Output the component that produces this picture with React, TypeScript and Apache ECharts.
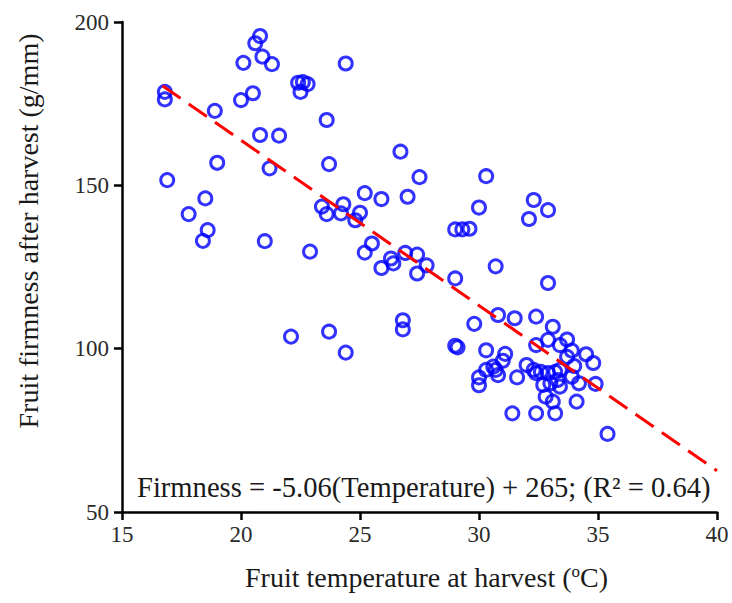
import React, { useEffect, useRef } from "react";
import * as echarts from "echarts";

// Fruit temperature at harvest (°C)
const temperature: number[] = [
  16.8, 16.8, 16.9, 17.8, 18.4, 18.6, 18.5, 18.9, 19.0, 20.0,
  20.5, 20.1, 20.6, 20.8, 20.9, 21.3, 20.8, 21.6, 21.2, 21.0,
  22.4, 22.6, 22.8, 22.5, 22.9, 23.6, 23.7, 23.4, 23.6, 24.4,
  24.3, 24.2, 25.0, 24.8, 25.2, 25.9, 25.5, 25.2, 26.3, 26.4,
  25.9, 26.9, 27.4, 27.8, 27.4, 26.7, 27.5, 27.0, 22.1, 23.7,
  24.4, 26.8, 26.8, 29.0, 29.3, 29.6, 30.0, 30.3, 29.0, 30.7,
  30.8, 29.8, 29.0, 29.1, 32.3, 32.9, 32.1, 32.9, 31.5, 32.4,
  33.1, 32.9, 33.7, 32.4, 33.4, 33.9, 34.5, 34.8, 34.0, 34.9,
  34.2, 33.9, 34.1, 33.7, 30.3, 31.1, 31.0, 30.0, 30.0, 30.3,
  30.6, 30.7, 30.8, 31.6, 32.0, 32.3, 32.6, 32.9, 33.2, 33.4,
  32.4, 32.7, 33.0, 33.3, 33.4, 32.8, 33.1, 33.2, 32.4, 31.4,
  35.4,
];

// Fruit firmness after harvest (g/mm)
const firmness: number[] = [
  178.6, 176.3, 151.6, 141.2, 133.0, 136.3, 146.0, 172.8, 156.9, 176.1,
  178.2, 187.5, 193.5, 195.7, 189.4, 187.1, 165.4, 165.2, 155.2, 132.9,
  181.4, 181.6, 181.0, 178.6, 129.7, 170.0, 156.5, 143.5, 141.2, 187.3,
  144.2, 141.4, 141.6, 139.3, 147.6, 145.8, 132.2, 129.4, 127.6, 126.1,
  124.7, 129.3, 128.8, 125.5, 123.0, 160.3, 152.5, 146.5, 103.7, 105.2,
  98.8, 108.7, 105.9, 136.5, 136.5, 136.7, 143.2, 152.8, 121.5, 125.2,
  110.3, 107.6, 100.9, 100.4, 145.5, 142.4, 139.7, 120.1, 109.3, 109.8,
  106.7, 102.7, 102.8, 101.1, 101.1, 99.4, 98.3, 95.6, 94.7, 89.2,
  89.4, 91.4, 83.8, 97.5, 99.5, 98.4, 96.3, 91.2, 88.8, 93.5,
  94.5, 93.5, 91.9, 91.2, 95.0, 93.5, 92.9, 92.5, 92.9, 93.5,
  92.5, 88.9, 89.4, 90.4, 88.4, 85.3, 83.8, 80.2, 80.2, 80.2,
  73.9,
];

// Regression: Firmness = -5.06(Temperature) + 265
const fitSlope = -5.06;
const fitIntercept = 265;
const fitRange: number[] = [16.7, 40];

const xTicks = { min: 15, max: 40, interval: 5 };
const yTicks = { min: 50, max: 200, interval: 50 };

const equationText = "Firmness = -5.06(Temperature) + 265; (R² = 0.64)";
const xTitle = "Fruit temperature at harvest ({sup|o}C)";
const yTitle = "Fruit firmness after harvest (g/mm)";

const FONT = "'Liberation Serif', 'DejaVu Serif', serif";

export default function App() {
  const ref = useRef<HTMLDivElement>(null);

  useEffect(() => {
    if (!ref.current) return;
    const chart = echarts.init(ref.current, null, { renderer: "svg" });
    const points = temperature.map((t, i) => [t, firmness[i]]);
    const fitLine = fitRange.map((t) => [t, fitSlope * t + fitIntercept]);

    chart.setOption({
      animation: false,
      backgroundColor: "#ffffff",
      textStyle: { fontFamily: FONT },
      grid: { left: 122, right: 15, top: 22, bottom: 91, containLabel: false },
      xAxis: {
        type: "value",
        min: xTicks.min,
        max: xTicks.max,
        interval: xTicks.interval,
        name: xTitle,
        nameLocation: "middle",
        nameGap: 51,
        nameTextStyle: {
          fontFamily: FONT,
          fontSize: 28,
          color: "#1a1a1a",
          padding: [0, 0, 0, 14],
          rich: {
            sup: { fontFamily: FONT, fontSize: 17, color: "#1a1a1a", verticalAlign: "top", padding: [0, 0, 10, 0] },
          },
        },
        axisLine: { show: true, lineStyle: { color: "#000", width: 2.5 } },
        axisTick: { show: true, inside: false, length: 8, lineStyle: { color: "#000", width: 2.5 } },
        axisLabel: { fontFamily: FONT, fontSize: 23, color: "#2b2b2b", margin: 11 },
        splitLine: { show: false },
      },
      yAxis: {
        type: "value",
        min: yTicks.min,
        max: yTicks.max,
        interval: yTicks.interval,
        name: yTitle,
        nameLocation: "middle",
        nameGap: 80,
        nameTextStyle: { fontFamily: FONT, fontSize: 28, color: "#1a1a1a", padding: [0, 0, 0, 72] },
        axisLine: { show: true, lineStyle: { color: "#000", width: 2.5 } },
        axisTick: { show: true, inside: false, length: 8, lineStyle: { color: "#000", width: 2.5 } },
        axisLabel: { fontFamily: FONT, fontSize: 23, color: "#2b2b2b", margin: 13 },
        splitLine: { show: false },
      },
      series: [
        {
          type: "scatter",
          data: points,
          symbol: "circle",
          symbolSize: 13,
          itemStyle: { color: "rgba(0,0,0,0)", borderColor: "#0000ff", borderWidth: 3 },
          z: 2,
        },
        {
          type: "line",
          data: fitLine,
          showSymbol: false,
          symbol: "none",
          lineStyle: { color: "#ff0000", width: 3, type: [22, 10] },
          z: 3,
        },
      ],
      graphic: [
        {
          type: "text",
          left: 137,
          top: 473,
          style: {
            text: equationText,
            fontFamily: FONT,
            fontSize: 28.6,
            fill: "#1a1a1a",
          },
        },
      ],
    });

    return () => chart.dispose();
  }, []);

  return (
    <div
      ref={ref}
      style={{ position: "fixed", left: 0, top: 0, width: 732, height: 603 }}
    />
  );
}
